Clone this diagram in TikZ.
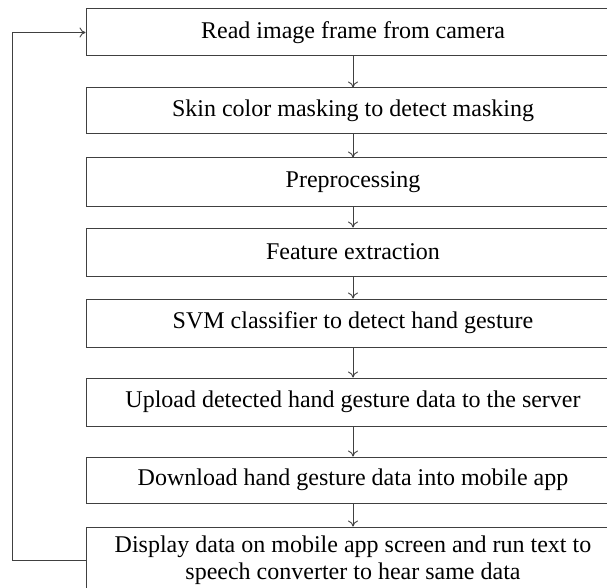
\documentclass[tikz,border=0pt]{standalone}
\usepackage{fontspec}
\setmainfont{Liberation Serif}
\usetikzlibrary{arrows.meta}

\begin{document}
\begin{tikzpicture} [
    x=1pt, y=-1pt,
    box/.style={rectangle, draw=black!75, line width=1pt, minimum width=534pt, align=center, font=\fontsize{24}{27}\selectfont},
    arrow/.style={-{To[length=6pt,width=10pt]}, draw=black!75, line width=0.9pt}
]
    \clip (0,0) rectangle (607,588);

    % Verarbeitungsschritte
    \node[box, minimum height=47pt] (read) at (353,32.5) {Read image frame from camera};
    \node[box, minimum height=46pt] (skin) at (353,111) {Skin color masking to detect masking};
    \node[box, minimum height=48pt] (pre) at (353,182) {Preprocessing};
    \node[box, minimum height=48pt] (feat) at (353,252) {Feature extraction};
    \node[box, minimum height=48pt] (svm) at (353,323) {SVM classifier to detect hand gesture};
    \node[box, minimum height=48pt] (upload) at (353,402) {Upload detected hand gesture data to the server};
    \node[box, minimum height=46pt] (download) at (353,480) {Download hand gesture data into mobile app};
    \node[box, minimum height=66pt] (display) at (353,560) {Display data on mobile app screen and run text to\\speech converter to hear same data};

    % Verbindungen
    \draw[arrow] (read) -- (skin);
    \draw[arrow] (skin) -- (pre);
    \draw[arrow] (pre) -- (feat);
    \draw[arrow] (feat) -- (svm);
    \draw[arrow] (svm) -- (upload);
    \draw[arrow] (upload) -- (download);
    \draw[arrow] (download) -- (display);

    % Rueckfuehrung
    \draw[arrow] (display.west) -- ++(-73,0) |- (read.west);
\end{tikzpicture}
\end{document}
